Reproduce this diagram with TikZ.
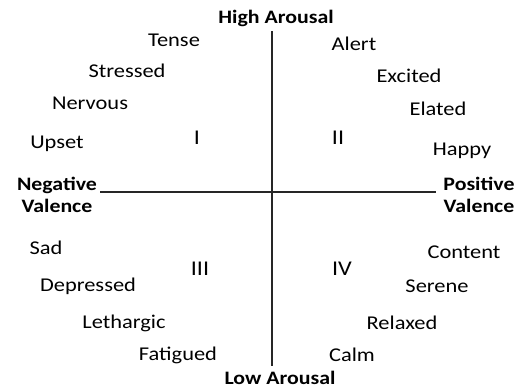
\documentclass[tikz,border=0pt]{standalone}
\usepackage{fontspec}
\setmainfont{Carlito}[FakeStretch=1.15]
\usepackage{tikz}

\begin{document}
\begin{tikzpicture}[x=1pt, y=-1pt, inner sep=0pt,
		mood/.style={font=\fontsize{19.5}{19.5}\selectfont},
		pole/.style={font=\fontsize{19}{19}\selectfont\bfseries, align=center},
		quad/.style={font=\fontsize{21}{21}\selectfont}]
		\useasboundingbox (0,0) rectangle (520,388);

		\coordinate(top) at (272,31);
		\coordinate(bottom) at (272,366);
		\coordinate(left) at (100,192);
		\coordinate(right) at (436,192);

		\node[pole](high) at (276,18) {High Arousal};
		\node[pole](low) at (280,378) {Low Arousal};
		\node[pole](neg) at (57,195) {Negative\\[3pt]Valence};
		\node[pole](pos) at (479,195) {Positive\\[3pt]Valence};

		\node[mood](tense) at (174,40) {Tense};
		\node[mood](stressed) at (127,71) {Stressed};
		\node[mood](nervous) at (90,103) {Nervous};
		\node[mood](upset) at (57,144) {Upset};

		\node[mood](alert) at (354,44) {Alert};
		\node[mood](excited) at (409,76) {Excited};
		\node[mood](elated) at (438,109) {Elated};
		\node[mood](happy) at (462,151) {Happy};

		\node[mood](sad) at (46,248) {Sad};
		\node[mood](depressed) at (88,286) {Depressed};
		\node[mood](lethargic) at (124,323) {Lethargic};
		\node[mood](fatigued) at (178,355) {Fatigued};

		\node[mood](content) at (464,252) {Content};
		\node[mood](serene) at (437,286) {Serene};
		\node[mood](relaxed) at (402,323) {Relaxed};
		\node[mood](calm) at (352,355) {Calm};

		\node[quad](qI) at (197,138) {I};
		\node[quad](qII) at (338,138) {II};
		\node[quad](qIII) at (200,269) {III};
		\node[quad](qIV) at (342,269) {IV};

		\draw[-, line width=1.6pt, black!85](top) -- (bottom);
		\draw[-, line width=1.6pt, black!85](left) -- (right);
	\end{tikzpicture}
\end{document}
